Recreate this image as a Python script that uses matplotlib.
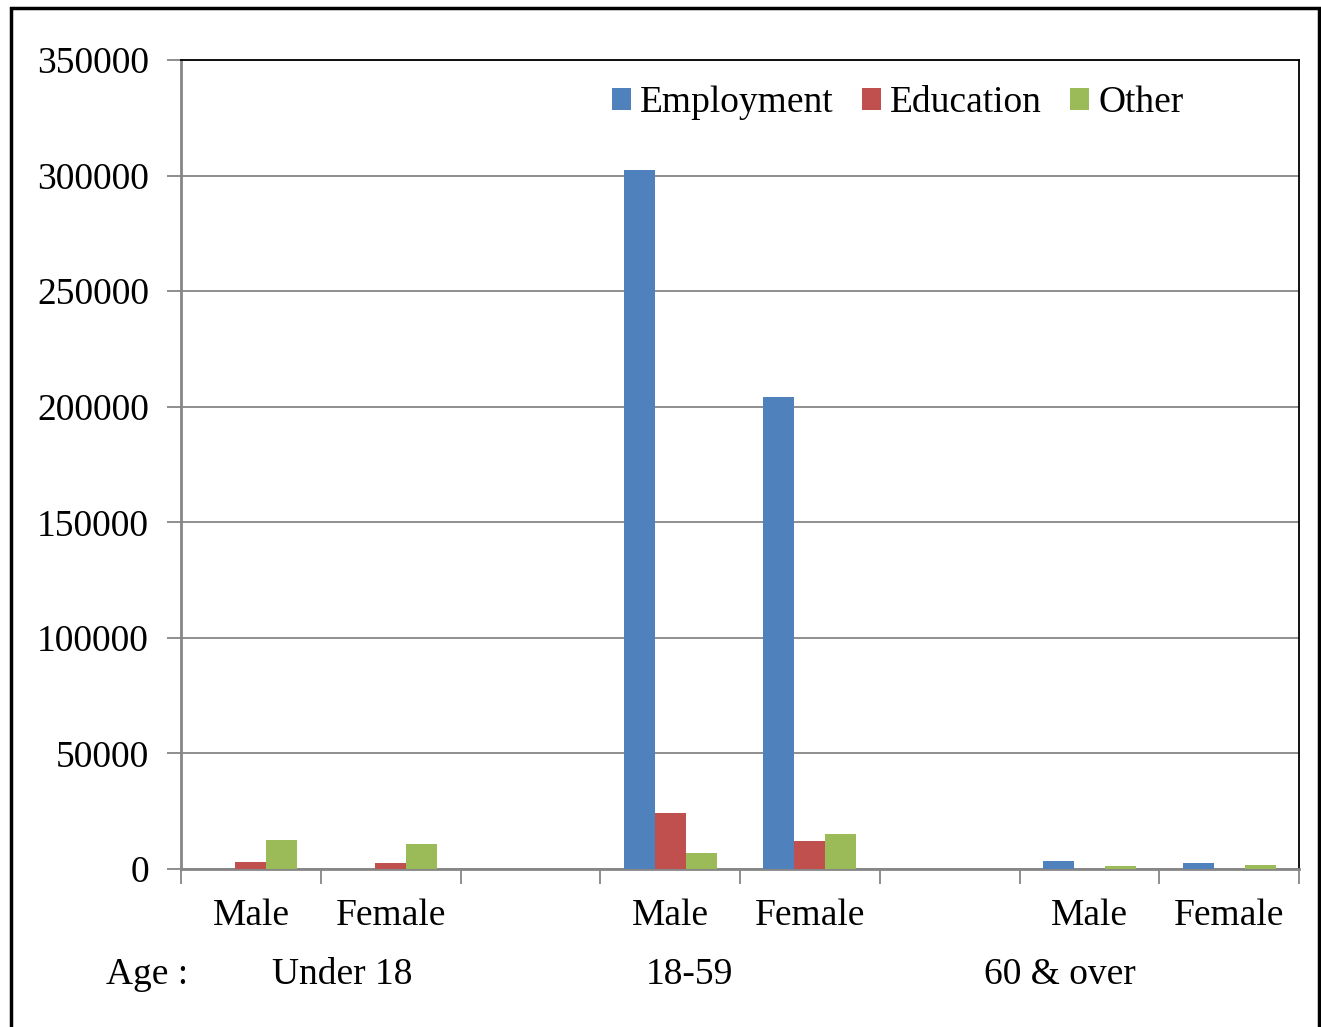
import matplotlib.pyplot as plt
import matplotlib.transforms as mtransforms
import numpy as np
from matplotlib.patches import Rectangle

plt.rcParams['font.family'] = ['Liberation Serif', 'DejaVu Serif']

# Data
sexes = ['Male', 'Female', '', 'Male', 'Female', '', 'Male', 'Female']
age_groups = ['Under 18', '18-59', '60 & over']
age_pos = [0.65, 3.14, 5.79]
employment = [0, 0, 0, 302400, 204200, 0, 3500, 2600]
education = [2900, 2500, 0, 24100, 12100, 0, 0, 0]
other = [12500, 10800, 0, 6800, 15100, 0, 1300, 1700]
yticks = [0, 50000, 100000, 150000, 200000, 250000, 300000, 350000]

colors = ['#4F81BD', '#C0504D', '#9BBB59']
fs = 27

fig = plt.figure(figsize=(13.21, 10.27), dpi=100)
W, H = 1321, 1027
ax = fig.add_axes([181 / W, 1 - 869 / H, (1299 - 181) / W, (869 - 60) / H])

x = np.arange(len(sexes))
bw = 0.222
ax.bar(x - bw, employment, bw, color=colors[0], label='Employment', zorder=3)
ax.bar(x, education, bw, color=colors[1], label='Education', zorder=3)
ax.bar(x + bw, other, bw, color=colors[2], label='Other', zorder=3)

ax.set_xlim(-0.5, len(sexes) - 0.5)
ax.set_ylim(0, 350000)
ax.set_yticks(yticks)
ax.set_yticklabels([str(v) for v in yticks], fontsize=fs)
ax.yaxis.grid(True, color='#868686', linewidth=1.3, zorder=0)
ax.tick_params(axis='y', length=10, width=1.3, color='#868686', pad=13)

ax.set_xticks(np.arange(-0.5, len(sexes), 1.0))
ax.set_xticklabels([])
ax.tick_params(axis='x', length=11, width=1.3, color='#868686')

for s in ['left', 'bottom']:
    ax.spines[s].set_color('#868686')
    ax.spines[s].set_linewidth(2)
for s in ['top', 'right']:
    ax.spines[s].set_color('black')
    ax.spines[s].set_linewidth(1.3)

# category labels under the axis (data x, figure y)
blend = mtransforms.blended_transform_factory(ax.transData, fig.transFigure)
for i, s in enumerate(sexes):
    if s:
        ax.text(i, 1 - 916 / H, s, transform=blend, ha='center', va='center', fontsize=fs)

ax.text(147 / W, 1 - 975 / H, 'Age :', transform=fig.transFigure,
        ha='center', va='center', fontsize=fs)
for p, g in zip(age_pos, age_groups):
    ax.text(p, 1 - 975 / H, g, transform=blend, ha='center', va='center', fontsize=fs)

ax.legend(loc='center left', bbox_to_anchor=((612 - 181) / 1118, (869 - 103) / 809),
          ncol=3, frameon=False, fontsize=fs, handlelength=0.5, handleheight=0.5,
          handletextpad=0.25, columnspacing=0.75, borderpad=0, borderaxespad=0)

fig.patches.append(Rectangle((11 / W, -0.05), (1319 - 11) / W, 1 - 8 / H + 0.05,
                             transform=fig.transFigure, fill=False,
                             edgecolor='black', linewidth=2.5))

fig.savefig('out.png', dpi=100)
